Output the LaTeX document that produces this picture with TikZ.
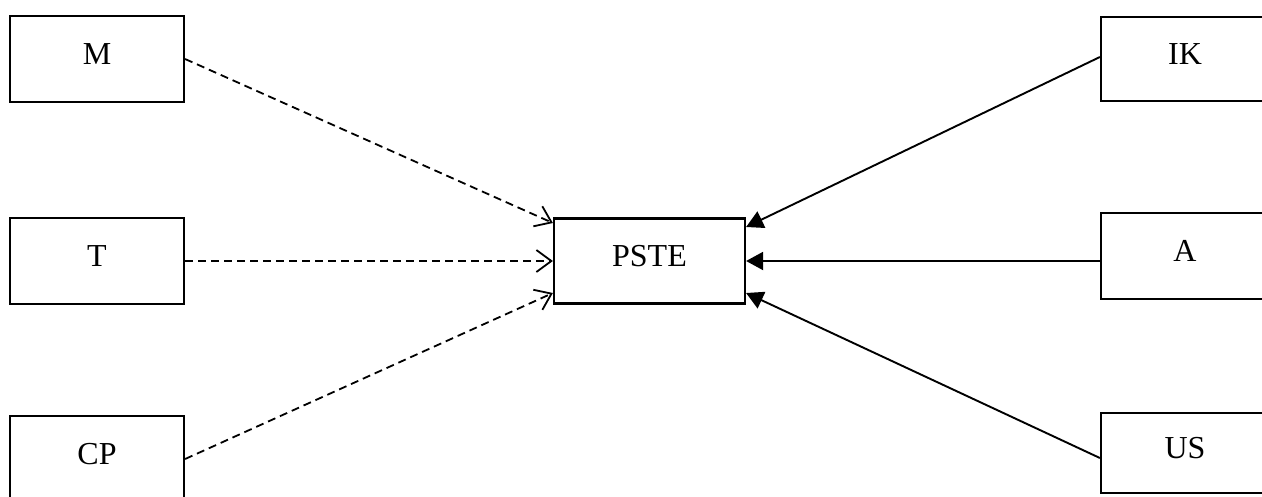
\documentclass[tikz,border=0pt]{standalone}
\usepackage{fontspec}
\setmainfont{Liberation Serif}
\usetikzlibrary{arrows.meta,calc}
\begin{document}
\begin{tikzpicture}[x=1pt,y=-1pt,
  box/.style={draw,line width=2.2pt,rectangle,inner sep=0pt,
    text height=10pt,text depth=0pt,
    font=\fontsize{32}{36}\selectfont},
  dashlink/.style={line width=1.8pt,dash pattern=on 8pt off 5pt,
    -{Straight Barb[length=15pt,width=22pt,line width=1.8pt]}},
  solidlink/.style={line width=1.9pt,-{Triangle[length=17pt,width=18pt]}}]
\useasboundingbox (0,0) rectangle (1262,496);
\clip (0,0) rectangle (1262,496);
\node[box,minimum width=174pt,minimum height=86pt] (M) at (97,59) {M};
\node[box,minimum width=174pt,minimum height=86pt] (T) at (97,261) {T};
\node[box,minimum width=174pt,minimum height=86pt] (CP) at (97,459) {CP};
\node[box,minimum width=191pt,minimum height=85pt] (PSTE) at (649.5,261) {PSTE};
\node[box,minimum width=168pt,minimum height=84pt] (IK) at (1185,59) {IK};
\node[box,minimum width=168pt,minimum height=86pt] (A) at (1185,256) {A};
\node[box,minimum width=168pt,minimum height=80pt] (US) at (1185,453) {US};
\draw[dashlink] (M.east) -- ($(PSTE.west)+(0,-38)$);
\draw[dashlink] (T.east) -- (PSTE.west);
\draw[dashlink] (CP.east) -- ($(PSTE.west)+(0,32)$);
\draw[solidlink] ($(IK.west)+(0,-2)$) -- ($(PSTE.east)+(0,-34)$);
\draw[solidlink] (A.west |- PSTE.east) -- (PSTE.east);
\draw[solidlink] ($(US.west)+(0,5)$) -- ($(PSTE.east)+(0,32)$);
\end{tikzpicture}
\end{document}
